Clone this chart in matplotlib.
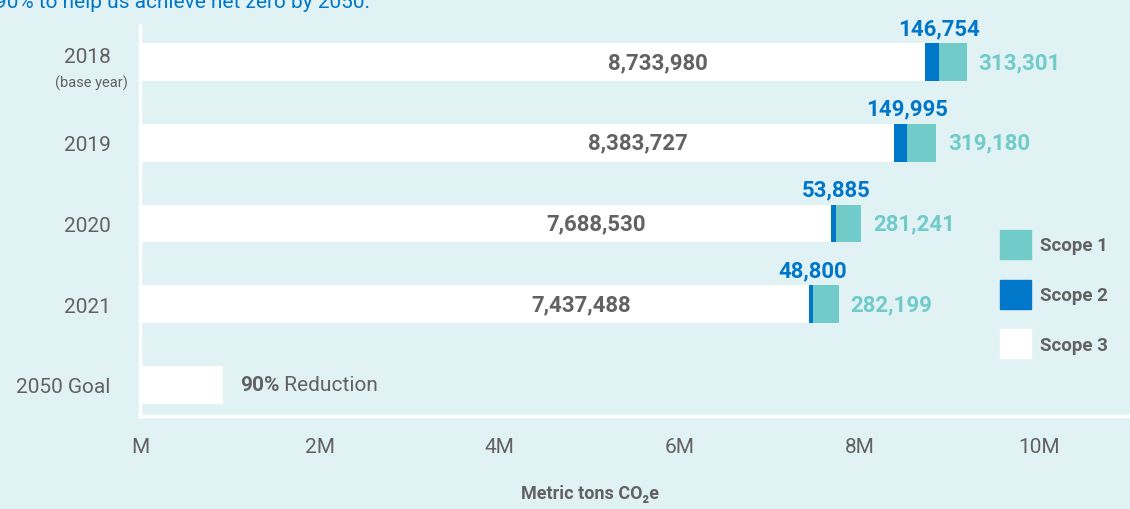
import matplotlib
matplotlib.use("Agg")
import matplotlib.pyplot as plt
import matplotlib.transforms as mtransforms
from matplotlib.patches import Patch
import numpy as np

# data
years = ["2018", "2019", "2020", "2021", "2050 Goal"]
scope1 = [313301, 319180, 281241, 282199]
scope2 = [146754, 149995, 53885, 48800]
scope3 = [8733980, 8383727, 7688530, 7437488]
goal_reduction = 90  # percent vs base year
x_ticks = [0, 2e6, 4e6, 6e6, 8e6, 10e6]
title_text = "90% to help us achieve net zero by 2050."

# colours
bg = "#e1f2f5"
teal = "#70cbc9"
blue = "#0077c8"
grey = "#626262"
fam = ["Roboto", "DejaVu Sans"]

plt.rcParams["font.family"] = fam

fig = plt.figure(figsize=(11.3, 5.1), dpi=100)
fig.patch.set_facecolor(bg)
W, H = 1130, 510
ax = fig.add_axes([140 / W, (H - 417) / H, 990 / W, 390 / H])
ax.set_facecolor(bg)

s1 = np.array(scope1)
s2 = np.array(scope2)
s3 = np.array(scope3)
base_total = s1[0] + s2[0] + s3[0]
goal_value = base_total * (100 - goal_reduction) / 100

y = np.arange(len(years))
yb = y[:len(scope3)]
h = 0.47

ax.barh(yb, s3, height=h, color="white")
ax.barh(yb, s2, left=s3, height=h, color=blue)
ax.barh(yb, s1, left=s3 + s2, height=h, color=teal)
ax.barh(y[-1], goal_value, height=h, color="white")

ax.set_xlim(0, 11.01e6)
ax.set_ylim(4.384, -0.446)

# value labels
for i in range(len(scope3)):
    ax.text(s3[i] * 0.66, yb[i], f"{scope3[i]:,}", ha="center", va="center",
            fontsize=16, fontweight="bold", color=grey)
    ax.annotate(f"{scope2[i]:,}", xy=(s3[i] + s2[i], yb[i] - h / 2),
                xytext=(0, 4), textcoords="offset pixels", ha="center", va="bottom",
                fontsize=16, fontweight="bold", color=blue)
    ax.annotate(f"{scope1[i]:,}", xy=(s3[i] + s2[i] + s1[i], yb[i]),
                xytext=(12, 0), textcoords="offset pixels", ha="left", va="center",
                fontsize=16, fontweight="bold", color=teal)

t1 = ax.annotate(f"{goal_reduction}%", xy=(goal_value, y[-1]), xytext=(17, 0),
                 textcoords="offset pixels", ha="left", va="center",
                 fontsize=15, fontweight="bold", color=grey)
ax.annotate(" Reduction", xy=(1, 0.5), xycoords=t1, ha="left", va="center",
            fontsize=15, color=grey)

# axes styling
for side in ["top", "right"]:
    ax.spines[side].set_visible(False)
for side in ["left", "bottom"]:
    ax.spines[side].set_color("white")
    ax.spines[side].set_linewidth(2.5)

ax.set_xticks(x_ticks)
ax.set_xticklabels(["M" if v == 0 else f"{int(v / 1e6)}M" for v in x_ticks])
ax.set_yticks(y)
ax.set_yticklabels(years)
ax.tick_params(axis="both", length=0, labelsize=15, labelcolor=grey)
ax.tick_params(axis="x", pad=15)
ax.tick_params(axis="y", pad=21)

# lift the 2018 label and put the note under it
lab = ax.get_yticklabels()[0]
lab.set_transform(lab.get_transform() + mtransforms.ScaledTranslation(0, 8 / 100, fig.dpi_scale_trans))
ax.annotate("(base year)", xy=(0, y[0]), xycoords=("axes fraction", "data"),
            xytext=(-49, -20), textcoords="offset pixels", ha="center", va="center",
            fontsize=10.5, color=grey)

ax.set_xlabel("Metric tons CO₂e", fontsize=13, fontweight="bold", color=grey)
ax.xaxis.set_label_coords(5e6, -0.175, transform=mtransforms.blended_transform_factory(ax.transData, ax.transAxes))

# legend
handles = [Patch(color=teal, label="Scope 1"),
           Patch(color=blue, label="Scope 2"),
           Patch(color="white", label="Scope 3")]
leg = fig.legend(handles=handles, loc="upper left", bbox_to_anchor=(1000 / W, 1 - 231 / H),
                 frameon=False, fontsize=13.5, handlelength=1.65, handleheight=2.0,
                 labelspacing=1.1, handletextpad=0.5, borderpad=0, borderaxespad=0)
for t in leg.get_texts():
    t.set_color(grey)
    t.set_fontweight("bold")

# cropped heading at the very top
fig.text(-5 / W, 1 - 8 / H, title_text, ha="left", va="baseline", fontsize=15, color=blue)

fig.savefig("out.png", dpi=100, facecolor=bg)
